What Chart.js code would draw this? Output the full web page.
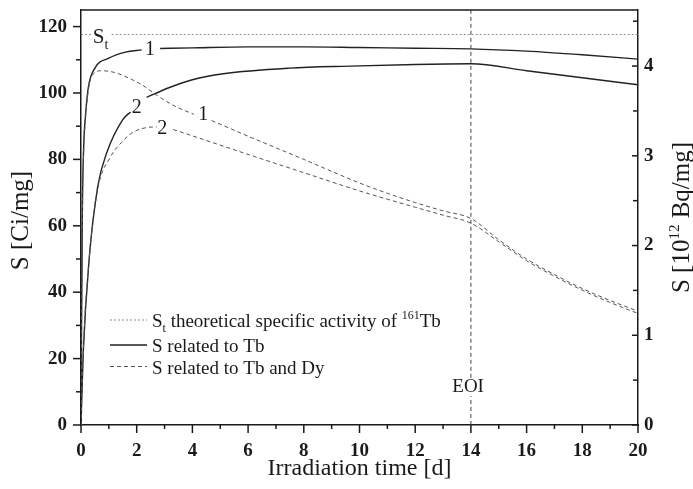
<!DOCTYPE html>
<html>
<head>
<meta charset="utf-8">
<script src="https://cdn.jsdelivr.net/npm/chart.js@4.4.1/dist/chart.umd.min.js"></script>
<style>
  html, body { margin: 0; padding: 0; background: #fff; }
  #wrap { width: 693px; height: 489px; }
</style>
</head>
<body>
<div id="wrap"><canvas id="chart" width="693" height="489"></canvas></div>
<script>
// irradiation time [d] against specific activity S [Ci/mg]; null = gap left for a curve label
const timeTb1 = [0, 0.02, 0.05, 0.1, 0.15, 0.26, 0.5, 1.0, 1.6, 2.18, 2.5, 2.84, 4, 6, 8, 10, 12, 14, 16, 18, 20];
const sTb1 = [0, 30, 65, 85, 92, 101.5, 107.5, 110.5, 112.3, 113, null, 113.4, 113.6, 113.9, 113.9, 113.7, 113.5, 113.3, 112.6, 111.5, 110.2];

const timeTb2 = [0, 0.08, 0.29, 0.6, 0.92, 1.5, 1.78, 2.05, 2.36, 3.13, 4, 5.11, 7.5, 9.66, 12, 14, 16, 18, 20];
const sTb2 = [0, 21.7, 49.7, 71.8, 81.9, 92, 94.3, null, 98.7, 101.5, 104, 105.8, 107.5, 108.1, 108.6, 108.8, 106.7, 104.6, 102.5];

const timeTbDy1 = [0, 0.02, 0.05, 0.1, 0.15, 0.25, 0.38, 0.74, 1.2, 1.58, 2.18, 2.78, 3.38, 4.05, 4.4, 4.69, 6, 8, 10, 11, 12, 13, 14, 15, 16, 17, 18, 19, 20];
const sTbDy1 = [0, 30, 64, 83, 91, 100, 105, 106.7, 106.2, 105, 102.5, 99, 96, 93.6, null, 91.7, 87, 80, 72.9, 69.8, 67.0, 64.5, 62.2, 55.8, 50, 45.3, 41.1, 37.5, 34.3];

const timeTbDy2 = [0, 0.08, 0.29, 0.6, 1.04, 1.5, 1.87, 2.36, 2.72, 3.0, 3.31, 4, 6, 8, 10, 11, 12, 13, 14, 15, 16, 17, 18, 19, 20];
const sTbDy2 = [0, 21.7, 49.7, 71, 80.5, 85.5, 88.2, 89.6, 89.8, null, 89, 87.1, 81.5, 76, 70.5, 68.0, 65.6, 63.2, 60.8, 55.2, 49.5, 44.8, 40.6, 36.9, 33.6];

// theoretical specific activity St and end of irradiation
const timeSt = [0, 0.38, 0.7, 1.1, 20];
const sSt = [117.6, 117.6, null, 117.6, 117.6];
const eoiTime = 14;
const eoiS = [0, 8.7, null, 14.2, 125];

// axes
const xTickValues = [0, 2, 4, 6, 8, 10, 12, 14, 16, 18, 20];
const xMinorTicks = [1, 3, 5, 7, 9, 11, 13, 15, 17, 19];
const yTickValues = [0, 20, 40, 60, 80, 100, 120];
const yMinorTicks = [10, 30, 50, 70, 90, 110];
const y2TickValues = [0, 1, 2, 3, 4];
const y2MinorTicks = [0.5, 1.5, 2.5, 3.5, 4.5];
const yMax = 125;
const ciToTBq = 0.037; // 1 Ci = 0.037 x 10^12 Bq

// curve labels, anchored in data units
const curveLabels = [
  { text: '1', t: 2.48, s: 113.1 },
  { text: '2', t: 2.0, s: 95.5 },
  { text: '1', t: 4.39, s: 93.5 },
  { text: '2', t: 2.92, s: 89.2 }
];

const SERIF = '"Liberation Serif", "Times New Roman", serif';
const INK = '#1a1a1a';
const solidStyle = { color: '#222', width: 1.4, dash: [] };
const mixStyle = { color: '#555', width: 1, dash: [4, 3] };
const stStyle = { color: '#8a8a8a', width: 1, dash: [2, 2] };

function toPoints(times, values) {
  return times.map((t, i) => ({ x: t, y: values[i] }));
}

function lineDataset(label, points, style, smooth) {
  return {
    label,
    data: points,
    borderColor: style.color,
    borderWidth: style.width,
    borderDash: style.dash,
    pointRadius: 0,
    fill: false,
    spanGaps: false,
    cubicInterpolationMode: smooth ? 'monotone' : 'default',
    tension: 0
  };
}

function drawLine(ctx, x1, y1, x2, y2, style) {
  ctx.save();
  ctx.strokeStyle = style.color;
  ctx.lineWidth = style.width;
  ctx.setLineDash(style.dash);
  ctx.beginPath();
  ctx.moveTo(x1, y1);
  ctx.lineTo(x2, y2);
  ctx.stroke();
  ctx.restore();
}

// draws a run of text pieces, each with its own size and baseline shift
function drawRuns(ctx, runs, x, y, align) {
  const widths = runs.map(r => {
    ctx.font = `${r.size}px ${SERIF}`;
    return ctx.measureText(r.text).width;
  });
  const total = widths.reduce((a, b) => a + b, 0);
  let cx = align === 'center' ? x - total / 2 : x;
  ctx.textAlign = 'left';
  ctx.textBaseline = 'alphabetic';
  runs.forEach((r, i) => {
    ctx.font = `${r.size}px ${SERIF}`;
    ctx.fillText(r.text, cx, y + (r.shift || 0));
    cx += widths[i];
  });
}

const decorations = {
  id: 'decorations',
  afterDatasetsDraw(chart) {
    const { ctx, chartArea, scales } = chart;
    const { x, y, y2 } = scales;
    const axisStyle = { color: INK, width: 1.5, dash: [] };

    // top frame line
    drawLine(ctx, chartArea.left, chartArea.top, chartArea.right, chartArea.top, axisStyle);

    // tick marks: left and bottom outward, right inward
    yTickValues.forEach(v => { const p = y.getPixelForValue(v); drawLine(ctx, chartArea.left - 8, p, chartArea.left, p, axisStyle); });
    yMinorTicks.forEach(v => { const p = y.getPixelForValue(v); drawLine(ctx, chartArea.left - 5, p, chartArea.left, p, axisStyle); });
    xTickValues.forEach(v => { const p = x.getPixelForValue(v); drawLine(ctx, p, chartArea.bottom, p, chartArea.bottom + 8, axisStyle); });
    xMinorTicks.forEach(v => { const p = x.getPixelForValue(v); drawLine(ctx, p, chartArea.bottom, p, chartArea.bottom + 4, axisStyle); });
    y2TickValues.forEach(v => { const p = y2.getPixelForValue(v); drawLine(ctx, chartArea.right - 6, p, chartArea.right, p, axisStyle); });
    y2MinorTicks.forEach(v => { const p = y2.getPixelForValue(v); drawLine(ctx, chartArea.right - 5, p, chartArea.right, p, axisStyle); });

    ctx.save();
    ctx.fillStyle = INK;

    // curve numbers
    ctx.font = `20px ${SERIF}`;
    ctx.textAlign = 'center';
    ctx.textBaseline = 'middle';
    curveLabels.forEach(l => {
      ctx.fillText(l.text, x.getPixelForValue(l.t), y.getPixelForValue(l.s));
    });
    ctx.font = `19px ${SERIF}`;
    ctx.fillText('EOI', x.getPixelForValue(13.9), y.getPixelForValue(11.5));

    // S_t marker
    drawRuns(ctx, [
      { text: 'S', size: 21 },
      { text: 't', size: 14, shift: 6 }
    ], x.getPixelForValue(0.42), y.getPixelForValue(115.2), 'left');

    // legend
    const lx = chartArea.left + 29;
    const rows = [
      { cy: 320, style: stStyle, runs: [
        { text: 'S', size: 19 }, { text: 't', size: 12, shift: 5 },
        { text: ' theoretical specific activity of ', size: 19 },
        { text: '161', size: 12, shift: -8 }, { text: 'Tb', size: 19 }
      ] },
      { cy: 345, style: solidStyle, runs: [{ text: 'S related to Tb', size: 19 }] },
      { cy: 366.5, style: mixStyle, runs: [{ text: 'S related to Tb and Dy', size: 19 }] }
    ];
    rows.forEach(r => {
      drawLine(ctx, lx, r.cy, lx + 37, r.cy, r.style);
      ctx.fillStyle = INK;
      drawRuns(ctx, r.runs, lx + 42, r.cy + 7, 'left');
    });

    // axis titles
    ctx.font = `24px ${SERIF}`;
    ctx.textAlign = 'center';
    ctx.textBaseline = 'alphabetic';
    ctx.fillText('Irradiation time [d]', (chartArea.left + chartArea.right) / 2, 475);

    const midY = (chartArea.top + chartArea.bottom) / 2;
    ctx.save();
    ctx.translate(28, midY + 3);
    ctx.rotate(-Math.PI / 2);
    drawRuns(ctx, [{ text: 'S [Ci/mg]', size: 25 }], 0, 0, 'center');
    ctx.restore();

    ctx.save();
    ctx.translate(689, midY);
    ctx.rotate(-Math.PI / 2);
    drawRuns(ctx, [
      { text: 'S [10', size: 25 },
      { text: '12', size: 15, shift: -10 },
      { text: ' Bq/mg]', size: 25 }
    ], 0, 0, 'center');
    ctx.restore();

    ctx.restore();
  }
};

function fixedTicks(values) {
  return scale => { scale.ticks = values.map(v => ({ value: v })); };
}

function fixedSize(prop, size) {
  return scale => {
    scale[prop] = size;
    scale.paddingTop = 0;
    scale.paddingBottom = 0;
    scale.paddingLeft = 0;
    scale.paddingRight = 0;
  };
}

const tickFont = { family: SERIF, size: 19, weight: 'bold' };
const border = { display: true, color: INK, width: 1.5 };

new Chart(document.getElementById('chart'), {
  type: 'line',
  data: {
    datasets: [
      lineDataset('St', toPoints(timeSt, sSt), stStyle, false),
      lineDataset('EOI', eoiS.map(v => ({ x: eoiTime, y: v })), { color: '#444', width: 1, dash: [4, 3] }, false),
      lineDataset('S related to Tb and Dy (1)', toPoints(timeTbDy1, sTbDy1), mixStyle, true),
      lineDataset('S related to Tb and Dy (2)', toPoints(timeTbDy2, sTbDy2), mixStyle, true),
      lineDataset('S related to Tb (1)', toPoints(timeTb1, sTb1), solidStyle, true),
      lineDataset('S related to Tb (2)', toPoints(timeTb2, sTb2), solidStyle, true)
    ]
  },
  options: {
    responsive: false,
    animation: false,
    layout: { padding: { top: 10, left: 0, right: 0, bottom: 0 } },
    plugins: {
      legend: { display: false },
      tooltip: { enabled: false }
    },
    scales: {
      x: {
        type: 'linear',
        min: 0,
        max: 20,
        afterBuildTicks: fixedTicks(xTickValues),
        afterFit: fixedSize('height', 64),
        grid: { display: false, drawTicks: false },
        border,
        ticks: { font: tickFont, color: INK, padding: 15, maxRotation: 0, autoSkip: false }
      },
      y: {
        type: 'linear',
        position: 'left',
        min: 0,
        max: yMax,
        afterBuildTicks: fixedTicks(yTickValues),
        afterFit: fixedSize('width', 81),
        grid: { display: false, drawTicks: false },
        border,
        ticks: { font: tickFont, color: INK, padding: 14, autoSkip: false }
      },
      y2: {
        type: 'linear',
        position: 'right',
        display: true,
        min: 0,
        max: yMax * ciToTBq,
        afterBuildTicks: fixedTicks(y2TickValues),
        afterFit: fixedSize('width', 55),
        grid: { display: false, drawTicks: false },
        border,
        ticks: { font: tickFont, color: INK, padding: 6, autoSkip: false }
      }
    }
  },
  plugins: [decorations]
});
</script>
</body>
</html>
